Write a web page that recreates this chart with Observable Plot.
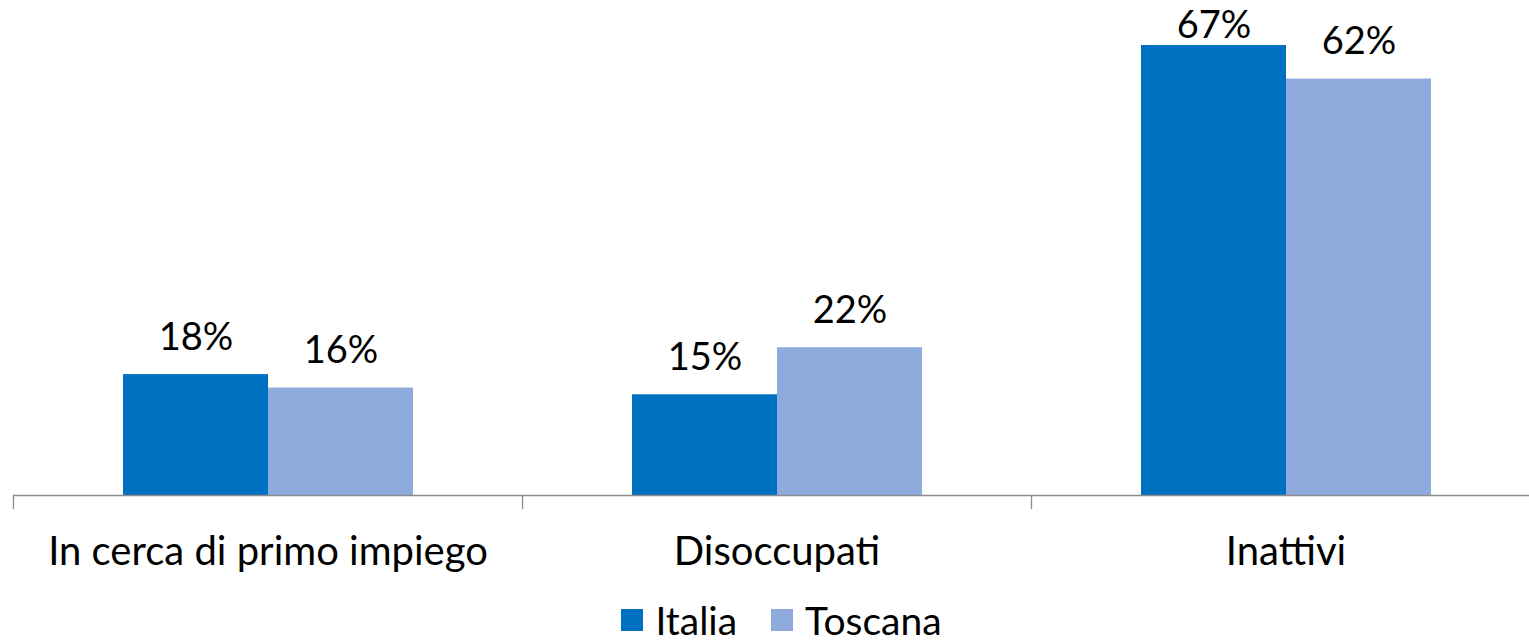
<!DOCTYPE html>
<html>
<head>
<meta charset="utf-8">
<script src="https://cdn.jsdelivr.net/npm/d3@7"></script>
<script src="https://cdn.jsdelivr.net/npm/@observablehq/plot@0.6"></script>
<style>
  html, body { margin: 0; padding: 0; background: #fff; }
  body { width: 1529px; height: 640px; overflow: hidden; font-family: Lato, "Open Sans", sans-serif; }
  #chart svg { display: block; }
  #legend { display: flex; justify-content: center; align-items: center; gap: 34px; height: 40px; margin-top: 2px; font-size: 39px; line-height: 1; color: #000; padding-left: 34px; }
  #legend .item { display: flex; align-items: center; gap: 12px; }
  #legend .sw { width: 22px; height: 22px; display: inline-block; }
</style>
</head>
<body>
<div id="chart"></div>
<div id="legend"></div>
<script>
const categories = ["In cerca di primo impiego", "Disoccupati", "Inattivi"];
const series = ["Italia", "Toscana"];
const italia = [18, 15, 67];
const toscana = [16, 22, 62];
const colors = ["#0070C0", "#8FAADC"];

const data = [];
categories.forEach((c, i) => {
  data.push({category: c, series: "Italia", value: italia[i]});
  data.push({category: c, series: "Toscana", value: toscana[i]});
});

const H = 598;
const baseY = 495;
const yMax = 73.7;
const labelCap = 64.4; // labels near the top are kept inside the plot area
const plot = Plot.plot({
  width: 1529,
  height: H,
  marginTop: 0,
  marginLeft: 12,
  marginRight: -11,
  marginBottom: H - baseY,
  style: {fontFamily: "Lato, 'Open Sans', sans-serif", background: "#fff", color: "#000"},
  fx: {domain: categories, paddingInner: 0, paddingOuter: 0, label: null},
  x: {domain: series, paddingInner: 0, paddingOuter: 0.75, axis: null},
  y: {domain: [0, yMax], axis: null},
  color: {domain: series, range: colors},
  marks: [
    Plot.barY(data, {fx: "category", x: "series", y: "value", fill: "series"}),
    Plot.text(data, {fx: "category", x: "series", y: d => Math.min(d.value, labelCap), text: d => d.value + "%", fontSize: 38, lineAnchor: "bottom", dy: -25, fill: "#000"}),
    Plot.ruleY([0], {stroke: "#8c8c8c", strokeWidth: 1.3}),
    Plot.frame({anchor: "left", stroke: "#8c8c8c", strokeWidth: 1.3, insetTop: baseY, insetBottom: -13}),
    Plot.axisFx({anchor: "bottom", tickSize: 0, tickPadding: 41, fontSize: 40, label: null})
  ]
});
document.getElementById("chart").appendChild(plot);

const legend = document.getElementById("legend");
series.forEach((s, i) => {
  const item = document.createElement("div");
  item.className = "item";
  item.innerHTML = `<span class="sw" style="background:${colors[i]}"></span><span>${s}</span>`;
  legend.appendChild(item);
});
</script>
</body>
</html>
